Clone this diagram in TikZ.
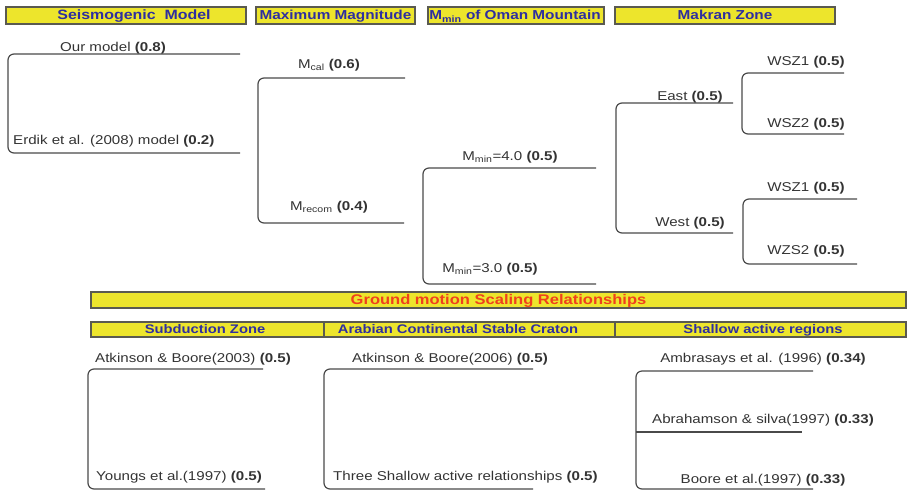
\documentclass[tikz,border=0pt]{standalone}
\usepackage{fontspec}
\setmainfont{Liberation Sans}[FakeStretch=1.18]
\definecolor{hdrY}{HTML}{EDE52C}
\definecolor{hdrB}{HTML}{5A5A50}
\definecolor{hdrT}{HTML}{2E2EA0}
\definecolor{gmT}{HTML}{F0401C}
\definecolor{lineC}{HTML}{4A4A4A}
\definecolor{lblC}{HTML}{333333}
\begin{document}
\begin{tikzpicture}[x=1pt,y=-1pt,
  hdr/.style={draw=hdrB, fill=hdrY, line width=1.2pt, inner sep=0pt, text=hdrT,
    font=\fontsize{13}{15}\selectfont\bfseries},
  hdrtext/.style={inner sep=0pt, text=hdrT, text height=0.72em, text depth=0pt,
    font=\fontsize{13}{15}\selectfont\bfseries},
  subtext/.style={hdrtext, font=\fontsize{12.5}{15}\selectfont\bfseries},
  gmtext/.style={hdrtext, text=gmT, font=\fontsize{14}{16}\selectfont\bfseries},
  lbl/.style={inner sep=0pt, text=lblC, text height=9.2pt, text depth=0pt,
    font=\fontsize{12.8}{15}\selectfont},
  branch/.style={draw=lineC, line width=1.2pt, rounded corners=6pt}]
\useasboundingbox (0,0) rectangle (908,491);
% top headers
\node[hdr, minimum width=240pt, minimum height=17pt] (h1) at (126,15.5) {};
\node[hdrtext, font=\fontsize{13.5}{15}\selectfont\bfseries] (t1) at (134,16) {Seismogenic\ \ Model};
\node[hdr, minimum width=159pt, minimum height=17pt] (h2) at (335.5,15.5) {};
\node[hdrtext] (t2) at (335.5,16) {Maximum Magnitude};
\node[hdr, minimum width=176pt, minimum height=17pt] (h3) at (516,15.5) {};
\node[hdrtext] (t3) at (515,16) {M\textsubscript{min} of Oman Mountain};
\node[hdr, minimum width=220pt, minimum height=17pt] (h4) at (725,15.5) {};
\node[hdrtext] (t4) at (725,16) {Makran Zone};
% ground motion bars
\node[hdr, minimum width=815pt, minimum height=16pt] (gm) at (498.5,300) {};
\node[gmtext] (gmt) at (498.5,300.5) {Ground motion Scaling Relationships};
\node[hdr, minimum width=233pt, minimum height=15pt] (s1) at (207.5,329.5) {};
\node[subtext] (st1) at (205,330) {Subduction Zone};
\node[hdr, minimum width=291pt, minimum height=15pt] (s2) at (469.5,329.5) {};
\node[subtext] (st2) at (458,330) {Arabian Continental Stable Craton};
\node[hdr, minimum width=291pt, minimum height=15pt] (s3) at (760.5,329.5) {};
\node[subtext] (st3) at (763,330) {Shallow active regions};
% labels
\node[lbl] (l1a) at (113,46.5) {Our model \textbf{(0.8)}};
\node[lbl, anchor=west] (l1b) at (13,139.5) {Erdik et al. (2008) model \textbf{(0.2)}};
\node[lbl] (l2a) at (329,64) {M\textsubscript{cal} \textbf{(0.6)}};
\node[lbl] (l2b) at (329,206) {M\textsubscript{recom} \textbf{(0.4)}};
\node[lbl] (l3a) at (510,156) {M\textsubscript{min}=4.0 \textbf{(0.5)}};
\node[lbl] (l3b) at (490,268) {M\textsubscript{min}=3.0 \textbf{(0.5)}};
\node[lbl] (l4a) at (690,96) {East \textbf{(0.5)}};
\node[lbl] (l4b) at (690,222) {West \textbf{(0.5)}};
\node[lbl] (l5a) at (806,61) {WSZ1 \textbf{(0.5)}};
\node[lbl] (l5b) at (806,123) {WSZ2 \textbf{(0.5)}};
\node[lbl] (l6a) at (806,187) {WSZ1 \textbf{(0.5)}};
\node[lbl] (l6b) at (806,250) {WZS2 \textbf{(0.5)}};
\node[lbl, anchor=west] (lAa) at (95,358) {Atkinson \& Boore(2003) \textbf{(0.5)}};
\node[lbl, anchor=west] (lAb) at (96,476) {Youngs et al.(1997) \textbf{(0.5)}};
\node[lbl, anchor=west] (lBa) at (352,358) {Atkinson \& Boore(2006) \textbf{(0.5)}};
\node[lbl, anchor=west] (lBb) at (333,476) {Three Shallow active relationships \textbf{(0.5)}};
\node[lbl] (lCa) at (763,358) {Ambrasays et al. (1996) \textbf{(0.34)}};
\node[lbl] (lCb) at (763,419) {Abrahamson \& silva(1997) \textbf{(0.33)}};
\node[lbl] (lCc) at (763,479) {Boore et al.(1997) \textbf{(0.33)}};
% branch end points
\coordinate (e1a) at (240,54);  \coordinate (e1b) at (240,153);
\coordinate (e2a) at (405,78);  \coordinate (e2b) at (404,223);
\coordinate (e3a) at (596,168); \coordinate (e3b) at (596,284);
\coordinate (e4a) at (733,103); \coordinate (e4b) at (733,233);
\coordinate (e5a) at (844,73);  \coordinate (e5b) at (844,134);
\coordinate (e6a) at (857,199); \coordinate (e6b) at (857,264);
\coordinate (eAa) at (263,369); \coordinate (eAb) at (265,489);
\coordinate (eBa) at (533,369); \coordinate (eBb) at (533,489);
\coordinate (eCa) at (813,371); \coordinate (eCb) at (802,432); \coordinate (eCc) at (813,489);
% branches
\draw[branch] (e1a) -- (8,54) -- (8,153) -- (e1b);
\draw[branch] (e2a) -- (258,78) -- (258,223) -- (e2b);
\draw[branch] (e3a) -- (423,168) -- (423,284) -- (e3b);
\draw[branch] (e4a) -- (616,103) -- (616,233) -- (e4b);
\draw[branch] (e5a) -- (742,73) -- (742,134) -- (e5b);
\draw[branch] (e6a) -- (743,199) -- (743,264) -- (e6b);
\draw[branch] (eAa) -- (88,369) -- (88,489) -- (eAb);
\draw[branch] (eBa) -- (324,369) -- (324,489) -- (eBb);
\draw[branch] (eCa) -- (636,371) -- (636,489) -- (eCc);
\draw[branch] (636,432) -- (eCb);
\end{tikzpicture}
\end{document}
